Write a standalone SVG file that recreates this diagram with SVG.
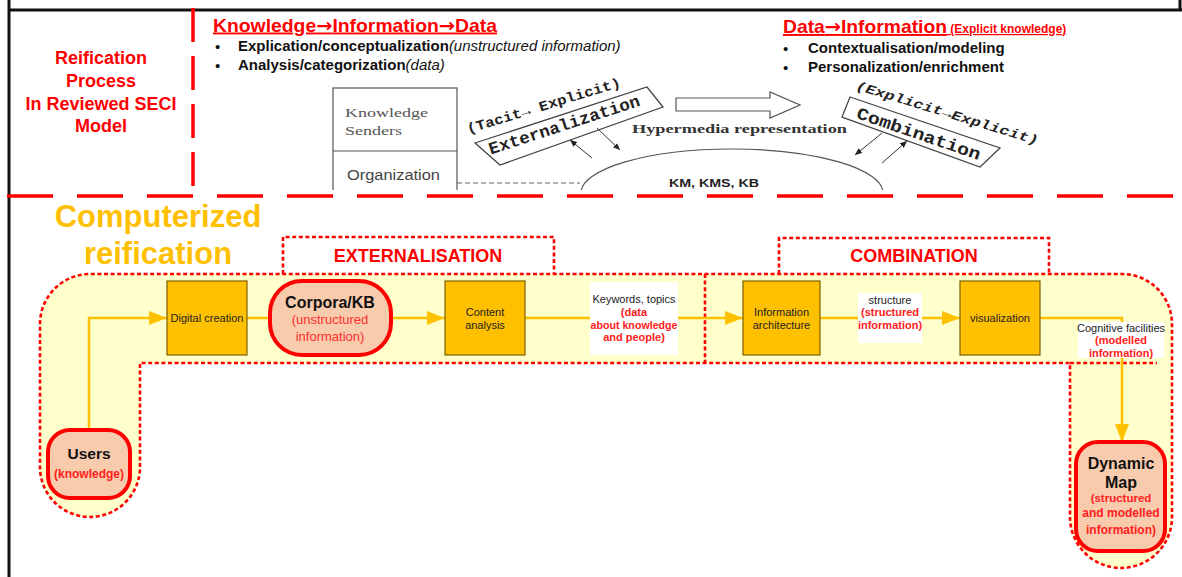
<svg xmlns="http://www.w3.org/2000/svg" width="1182" height="577" viewBox="0 0 1182 577">
<style>
.sans{font-family:"Liberation Sans",Arial,sans-serif}
.serif{font-family:"Liberation Serif","Times New Roman",serif}
.mono{font-family:"Liberation Mono","Courier New",monospace}
.arw{font-family:"DejaVu Sans",sans-serif}
.red{fill:#FF0000}
.hd{font-weight:bold;font-size:19px;text-decoration:underline}
.bul{font-size:15px;fill:#111}
.box{fill:#FFC000;stroke:#7F6000;stroke-width:1.2}
.pill{fill:#F8CBAD;stroke:#FF0000;stroke-width:4}
.dot{fill:none;stroke:#FF0000;stroke-width:2.6;stroke-dasharray:4 2.6}
.lbl{fill:#FFFFFF}
.conn{fill:none;stroke:#FFC000;stroke-width:2.5}
.t11{font-size:11px;fill:#222}
.r11{font-size:11px;font-weight:bold;fill:#FF2020}
.scan{fill:none;stroke:#555;stroke-width:1.2}
.sarr{fill:none;stroke:#333;stroke-width:1}
</style>
<defs>
<marker id="oa" markerUnits="userSpaceOnUse" markerWidth="20" markerHeight="16" refX="18" refY="7" orient="auto">
<path d="M0,0 L18,7 L0,14 z" fill="#FFC000"/>
</marker>
<marker id="ba" markerUnits="userSpaceOnUse" markerWidth="8" markerHeight="8" refX="7" refY="3" orient="auto">
<path d="M0,0 L7,3 L0,6 z" fill="#222"/>
</marker>
<clipPath id="clipTop"><rect x="0" y="0" width="1182" height="190"/></clipPath>
</defs>
<rect width="1182" height="577" fill="#FFFFFF"/>

<!-- frame -->
<g id="frame">
<line x1="9" y1="0" x2="9" y2="577" stroke="#111" stroke-width="3"/>
<line x1="9" y1="10" x2="1182" y2="10" stroke="#111" stroke-width="3"/>
<line x1="1180" y1="0" x2="1180" y2="10" stroke="#111" stroke-width="3"/>
<line x1="193" y1="8" x2="193" y2="192" stroke="#FF0000" stroke-width="3.5" stroke-dasharray="34 14"/>
<line x1="7" y1="196" x2="1182" y2="196" stroke="#FF0000" stroke-width="3.5" stroke-dasharray="46 24"/>
</g>

<!-- top-left title -->
<g id="title-reification" class="sans red" font-weight="bold" font-size="18" text-anchor="middle">
<text x="101" y="64">Reification</text>
<text x="101" y="87">Process</text>
<text x="101" y="109.5">In Reviewed SECI</text>
<text x="101" y="132">Model</text>
</g>

<!-- headings -->
<g id="heading-left" class="sans">
<text x="213" y="31.5" class="hd red" textLength="284" lengthAdjust="spacingAndGlyphs">Knowledge<tspan class="arw">→</tspan>Information<tspan class="arw">→</tspan>Data</text>
<text x="215" y="52" class="bul" font-size="17">•</text>
<text x="238" y="51" class="bul"><tspan font-weight="bold">Explication/conceptualization</tspan><tspan font-style="italic">(unstructured information)</tspan></text>
<text x="215" y="71" class="bul" font-size="17">•</text>
<text x="238" y="70" class="bul"><tspan font-weight="bold">Analysis/categorization</tspan><tspan font-style="italic">(data)</tspan></text>
</g>
<g id="heading-right" class="sans">
<text x="783" y="33" class="red" font-weight="bold" text-decoration="underline"><tspan font-size="19" textLength="164" lengthAdjust="spacingAndGlyphs">Data<tspan class="arw">→</tspan>Information</tspan><tspan font-size="12"> (Explicit knowledge)</tspan></text>
<text x="783" y="54" class="bul" font-size="17">•</text>
<text x="808" y="53" class="bul" font-weight="bold">Contextualisation/modeling</text>
<text x="783" y="73" class="bul" font-size="17">•</text>
<text x="808" y="72" class="bul" font-weight="bold">Personalization/enrichment</text>
</g>

<!-- scanned SECI figure -->
<g id="seci-figure" clip-path="url(#clipTop)">
<g id="senders-box">
<rect x="333" y="88" width="124" height="110" class="scan"/>
<line x1="333" y1="151" x2="457" y2="151" class="scan"/>
<text x="345" y="117" class="serif" font-size="13" fill="#555" textLength="83" lengthAdjust="spacingAndGlyphs">Knowledge</text>
<text x="345" y="135" class="serif" font-size="13" fill="#555" textLength="57" lengthAdjust="spacingAndGlyphs">Senders</text>
<text x="347" y="180" class="sans" font-size="14" fill="#444" textLength="93" lengthAdjust="spacingAndGlyphs">Organization</text>
</g>
<line x1="457" y1="183" x2="580" y2="183" stroke="#666" stroke-width="1.2" stroke-dasharray="5 3"/>
<g id="kb-ellipse">
<ellipse cx="732" cy="193" rx="151" ry="44" class="scan"/>
<text x="714" y="187" class="sans" font-size="10.5" font-weight="bold" fill="#222" text-anchor="middle" textLength="90" lengthAdjust="spacingAndGlyphs">KM, KMS, KB</text>
</g>
<g id="hypermedia">
<polygon points="676,98 770,98 770,92 800,105 770,118 770,111 676,111" fill="#FFFFFF" stroke="#555" stroke-width="1.2"/>
<text x="632" y="133" class="serif" font-size="13" font-weight="bold" fill="#333" textLength="215" lengthAdjust="spacingAndGlyphs">Hypermedia representation</text>
</g>
<g id="externalization">
<polygon points="475,143 647,87 663,107 500,165" fill="#FFFFFF" stroke="#444" stroke-width="1.3"/>
<text transform="translate(566,130) rotate(-18)" x="0" y="0" class="mono" font-size="17" font-weight="bold" fill="#222" text-anchor="middle" textLength="158" lengthAdjust="spacingAndGlyphs">Externalization</text>
<text transform="translate(545,110) rotate(-17)" x="0" y="0" class="mono" font-size="14" font-weight="bold" fill="#222" text-anchor="middle" textLength="160" lengthAdjust="spacingAndGlyphs">(Tacit→ Explicit)</text>
<line x1="597" y1="128" x2="620" y2="150" class="sarr" marker-end="url(#ba)"/>
<line x1="592" y1="158" x2="570" y2="140" class="sarr" marker-end="url(#ba)"/>
</g>
<g id="combination-fig">
<polygon points="850,97 1000,148 980,167 842,117" fill="#FFFFFF" stroke="#444" stroke-width="1.3"/>
<text transform="translate(917,139) rotate(19)" x="0" y="0" class="mono" font-size="17" font-weight="bold" fill="#222" text-anchor="middle" textLength="130" lengthAdjust="spacingAndGlyphs">Combination</text>
<text transform="translate(946,117) rotate(17)" x="0" y="0" class="mono" font-size="13" font-weight="bold" font-style="italic" fill="#222" text-anchor="middle" textLength="190" lengthAdjust="spacingAndGlyphs">(Explicit→Explicit)</text>
<line x1="882" y1="133" x2="855" y2="155" class="sarr" marker-end="url(#ba)"/>
<line x1="882" y1="163" x2="907" y2="141" class="sarr" marker-end="url(#ba)"/>
</g>
</g>

<!-- computerized reification -->
<g id="title-computerized" class="sans" font-weight="bold" font-size="31" fill="#FFC000" text-anchor="middle">
<text x="158" y="227">Computerized</text>
<text x="158" y="264">reification</text>
</g>

<!-- band -->
<g id="band">
<path d="M40,324 A50,50 0 0 1 90,274 L1122,274 A50,50 0 0 1 1172,324 L1172,517 A51,51 0 0 1 1070,517 L1070,363 L140,363 L140,467 A50,50 0 0 1 40,467 Z" fill="#FFFFCC"/>
<path d="M40,324 A50,50 0 0 1 90,274 L1122,274 A50,50 0 0 1 1172,324 L1172,517 A51,51 0 0 1 1070,517 L1070,363 L140,363 L140,467 A50,50 0 0 1 40,467 Z" class="dot"/>
<line x1="705" y1="274" x2="705" y2="363" class="dot"/>
<line x1="1070" y1="363" x2="1157" y2="363" class="dot"/>
</g>

<g id="group-externalisation">
<path d="M283,274 L283,237 L554,237 L554,274" class="dot"/>
<text x="418" y="262" class="sans red" font-weight="bold" font-size="18" text-anchor="middle">EXTERNALISATION</text>
</g>
<g id="group-combination">
<path d="M779,274 L779,238 L1049,238 L1049,274" class="dot"/>
<text x="914" y="262" class="sans red" font-weight="bold" font-size="18" text-anchor="middle">COMBINATION</text>
</g>

<!-- connectors -->
<g id="connectors">
<polyline points="89,430 89,318 167,318" class="conn" marker-end="url(#oa)"/>
<line x1="247" y1="318" x2="270" y2="318" class="conn"/>
<line x1="391" y1="318" x2="445" y2="318" class="conn" marker-end="url(#oa)"/>
<line x1="525" y1="318" x2="590" y2="318" class="conn"/>
<line x1="678" y1="318" x2="743" y2="318" class="conn" marker-end="url(#oa)"/>
<line x1="820" y1="318" x2="858" y2="318" class="conn"/>
<line x1="922" y1="318" x2="960" y2="318" class="conn" marker-end="url(#oa)"/>
<polyline points="1040,318 1122,318 1122,322" class="conn"/>
<line x1="1122" y1="358" x2="1122" y2="442" class="conn" marker-end="url(#oa)"/>
</g>

<!-- nodes -->
<g id="node-digital-creation">
<rect x="167" y="281" width="80" height="74" class="box"/>
<text x="207" y="322" class="sans t11" font-size="10.5" text-anchor="middle">Digital creation</text>
</g>
<g id="node-corpora">
<rect x="270" y="281" width="121" height="74" rx="32" ry="32" class="pill"/>
<g class="sans" text-anchor="middle">
<text x="330" y="308" font-size="16" font-weight="bold" fill="#111">Corpora/KB</text>
<text x="330" y="324" font-size="13" fill="#FF3030">(unstructured</text>
<text x="330" y="341" font-size="13" fill="#FF3030">information)</text>
</g>
</g>
<g id="node-content-analysis">
<rect x="445" y="281" width="80" height="74" class="box"/>
<g class="sans t11" text-anchor="middle">
<text x="485" y="316">Content</text>
<text x="485" y="329">analysis</text>
</g>
</g>
<g id="label-keywords">
<rect x="590" y="282" width="88" height="73" class="lbl"/>
<g class="sans" text-anchor="middle">
<text x="634" y="303" class="t11">Keywords, topics</text>
<text x="634" y="316" class="r11">(data</text>
<text x="634" y="329" class="r11" textLength="87" lengthAdjust="spacingAndGlyphs">about knowledge</text>
<text x="634" y="341" class="r11">and people)</text>
</g>
</g>
<g id="node-information-architecture">
<rect x="743" y="281" width="77" height="74" class="box"/>
<g class="sans t11" text-anchor="middle">
<text x="781.5" y="316">Information</text>
<text x="781.5" y="329">architecture</text>
</g>
</g>
<g id="label-structure">
<rect x="858" y="293" width="64" height="50" class="lbl"/>
<g class="sans" text-anchor="middle">
<text x="890" y="304" class="t11">structure</text>
<text x="890" y="316" class="r11">(structured</text>
<text x="890" y="329" class="r11">information)</text>
</g>
</g>
<g id="node-visualization">
<rect x="960" y="281" width="80" height="74" class="box"/>
<text x="1000" y="322" class="sans t11" text-anchor="middle">visualization</text>
</g>
<g id="label-cognitive">
<rect x="1078" y="322" width="86" height="36" class="lbl"/>
<g class="sans" text-anchor="middle">
<text x="1121" y="332" class="t11" font-size="10.8">Cognitive facilities</text>
<text x="1121" y="344" class="r11">(modelled</text>
<text x="1121" y="357" class="r11">information)</text>
</g>
</g>
<g id="node-users">
<rect x="48" y="430" width="82" height="68" rx="22" ry="22" class="pill"/>
<g class="sans" text-anchor="middle">
<text x="89" y="459" font-size="15.5" font-weight="bold" fill="#111">Users</text>
<text x="89" y="478" font-size="12" font-weight="bold" fill="#FF2020">(knowledge)</text>
</g>
</g>
<g id="node-dynamic-map">
<rect x="1076" y="442" width="89" height="109" rx="22" ry="22" class="pill"/>
<g class="sans" text-anchor="middle">
<text x="1121" y="469" font-size="16" font-weight="bold" fill="#111">Dynamic</text>
<text x="1121" y="488" font-size="16" font-weight="bold" fill="#111">Map</text>
<text x="1121" y="502" font-size="11.5" font-weight="bold" fill="#FF2020">(structured</text>
<text x="1121" y="517" font-size="12" font-weight="bold" fill="#FF2020">and modelled</text>
<text x="1121" y="534" font-size="12" font-weight="bold" fill="#FF2020">information)</text>
</g>
</g>
</svg>
